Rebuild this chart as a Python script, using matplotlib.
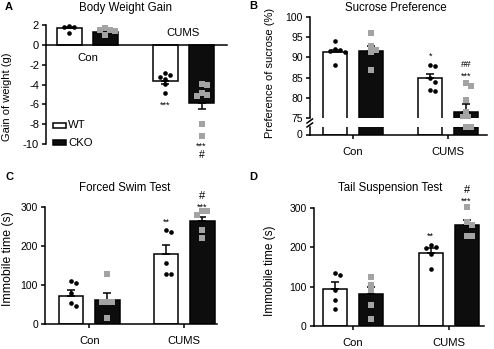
import numpy as np
import matplotlib
matplotlib.use("Agg")
import matplotlib.pyplot as plt
from matplotlib.patches import Rectangle
from matplotlib.lines import Line2D

plt.rcParams['font.family'] = ['Liberation Sans', 'DejaVu Sans']

# ---------------- data ----------------
groups = ["Con", "CUMS"]
series = ["WT", "CKO"]

# A: Body weight gain (g)
bw_wt_mean = [1.67, -3.6]
bw_wt_sem = [0.12, 0.33]
bw_cko_mean = [1.3, -5.85]
bw_cko_sem = [0.15, 0.67]
bw_wt_con = [1.8, 1.2, 1.85, 1.8]
bw_cko_con = [1.4, 0.95, 1.7, 1.5, 1.5]
bw_wt_cums = [-3.2, -3.05, -3.9, -4.85, -2.85, -3.4]
bw_cko_cums = [-4.9, -3.9, -8.0, -9.2, -5.2, -4.1, -5.1]

# B: Sucrose preference (%)
sp_wt_mean = [91.2, 84.8]
sp_wt_sem = [0.7, 1.2]
sp_cko_mean = [91.5, 76.5]
sp_cko_sem = [1.3, 1.9]
sp_wt_con = [88.0, 92.0, 94.1, 91.5, 91.8, 91.4]
sp_cko_con = [96.1, 92.7, 91.8, 91.4, 86.9]
sp_wt_cums = [88.0, 87.9, 84.9, 84.0, 81.7, 81.9]
sp_cko_cums = [83.7, 83.0, 79.4, 76.5, 75.3, 75.2, 69.0, 69.0]

# C: Forced swim test immobile time (s)
fs_wt_mean = [72.9, 179.0]
fs_wt_sem = [14.5, 24.0]
fs_cko_mean = [61.7, 265.7]
fs_cko_sem = [17.2, 10.3]
fs_wt_con = [78.9, 110.6, 53.1, 104.6, 47.1]
fs_cko_con = [57.4, 127.7, 57.4, 14.6, 57.4]
fs_wt_cums = [235.7, 241.7, 156.0, 127.7, 127.7]
fs_cko_cums = [290.6, 280.0, 290.6, 241.7, 222.0]

# D: Tail suspension test immobile time (s)
ts_wt_mean = [93.8, 186.7]
ts_wt_sem = [17.0, 11.0]
ts_cko_mean = [80.1, 257.4]
ts_cko_sem = [18.0, 12.8]
ts_wt_con = [133.8, 129.6, 91.2, 65.6, 42.6]
ts_cko_con = [125.3, 104.0, 91.2, 52.9, 17.0]
ts_wt_cums = [206.3, 202.0, 199.5, 183.3, 144.0]
ts_cko_cums = [302.6, 266.0, 257.4, 229.3, 229.3]

# ---------------- layout helpers ----------------
W, H = 494, 349
fig = plt.figure(figsize=(W / 100, H / 100), dpi=100)


def fx(px):
    return px / W


def fy(py):
    return 1 - py / H


def make_ax(l, r, t, b):
    return fig.add_axes([fx(l), fy(b), (r - l) / W, (b - t) / H])


GRAY = '#a3a3a3'
LW = 1.1


def swarm(vals, ax, xc, diam=5.0):
    bb = ax.get_position()
    ylo, yhi = ax.get_ylim()
    xlo, xhi = ax.get_xlim()
    ypu = bb.height * H / (yhi - ylo)
    xpu = bb.width * W / (xhi - xlo)
    placed = []
    offs = [0.0] * len(vals)
    order = sorted(range(len(vals)), key=lambda i: -vals[i])
    cands = [0.0]
    for k in range(1, 12):
        cands += [k * diam * 0.5, -k * diam * 0.5]
    for i in order:
        y = vals[i] * ypu
        for c in cands:
            if all((c - px) ** 2 + (y - py) ** 2 >= (diam * 0.98) ** 2 for px, py in placed):
                placed.append((c, y))
                offs[i] = c / xpu
                break
    return [xc + o for o in offs]


def draw_panel(ax, off, width, wt_mean, wt_sem, cko_mean, cko_sem, pts, errs=True):
    xs = np.arange(len(groups))
    ax.bar(xs - off, wt_mean, width, color='white', edgecolor='black', linewidth=LW, zorder=2)
    ax.bar(xs + off, cko_mean, width, color='#0d0d0d', edgecolor='black', linewidth=LW, zorder=2)
    if errs:
        for x, m, s in zip(list(xs - off) + list(xs + off), wt_mean + cko_mean, wt_sem + cko_sem):
            lo, hi = (0, s) if m >= 0 else (s, 0)
            ax.errorbar([x], [m], yerr=[[lo], [hi]], fmt='none', ecolor='black',
                        elinewidth=LW, capsize=3, capthick=LW, zorder=4)
    for (gi, kind), vals in pts.items():
        xc = gi + (off if kind == 'cko' else -off)
        xp = swarm(vals, ax, xc)
        if kind == 'wt':
            ax.scatter(xp, vals, s=11, marker='o', color='black', zorder=5, linewidths=0, clip_on=False)
        else:
            ax.scatter(xp, vals, s=13, marker='s', color=GRAY, zorder=5, linewidths=0, clip_on=False)


def style(ax, fs=7.5):
    for sp in ['top', 'right']:
        ax.spines[sp].set_visible(False)
    for sp in ['left', 'bottom']:
        ax.spines[sp].set_linewidth(LW)
    ax.tick_params(direction='out', length=3, width=LW, labelsize=fs, pad=2)


# ---------------- Panel A ----------------
axA = make_ax(46, 227, 25, 144)
axA.set_xlim(-0.432, 1.453)
axA.set_ylim(-10, 2)
style(axA, 8)
axA.spines['bottom'].set_position(('data', 0))
axA.set_xticks([])
axA.set_yticks([2, 0, -2, -4, -6, -8, -10])
axA.set_yticklabels(['2', '0', '-2', '-4', '-6', '-8', '-10'])
draw_panel(axA, 0.1875, 0.26, bw_wt_mean, bw_wt_sem, bw_cko_mean, bw_cko_sem,
           {(0, 'wt'): bw_wt_con, (0, 'cko'): bw_cko_con,
            (1, 'wt'): bw_wt_cums, (1, 'cko'): bw_cko_cums})
axA.text(0, -1.35, groups[0], ha='center', va='center', fontsize=8.2)
axA.text(1.0, 1.2, groups[1], ha='center', va='center', fontsize=8.2)
axA.text(1 - 0.1875, -6.1, '***', ha='center', va='center', fontsize=6.5, clip_on=False)
axA.text(1 + 0.1875, -10.25, '***', ha='center', va='center', fontsize=6.5, clip_on=False)
axA.text(1 + 0.1875, -11.1, '#', ha='center', va='center', fontsize=7.5, clip_on=False)
# legend
fig.patches.append(Rectangle((fx(53), fy(127.5)), 13 / W, 5 / H, transform=fig.transFigure,
                             facecolor='white', edgecolor='black', linewidth=LW))
fig.patches.append(Rectangle((fx(53), fy(145.5)), 13 / W, 5 / H, transform=fig.transFigure,
                             facecolor='#0d0d0d', edgecolor='black', linewidth=LW))
fig.text(fx(68), fy(125), series[0], ha='left', va='center', fontsize=8.2)
fig.text(fx(68), fy(143), series[1], ha='left', va='center', fontsize=8.2)
fig.text(fx(7), fy(97), 'Gain of weight (g)', rotation=90, ha='center', va='center', fontsize=8)
fig.text(fx(125), fy(8), 'Body Weight Gain', ha='center', va='center', fontsize=8.3)
fig.text(fx(5), fy(7), 'A', ha='left', va='center', fontsize=8, fontweight='bold')

# ---------------- Panel B ----------------
axB = make_ax(309.7, 487, 16.7, 118.3)
axB.set_xlim(-0.456, 1.41)
axB.set_ylim(75, 100)
style(axB, 7.5)
axB.spines['bottom'].set_visible(False)
axB.set_xticks([])
axB.set_yticks([75, 80, 85, 90, 95, 100])
draw_panel(axB, 0.187, 0.25, sp_wt_mean, sp_wt_sem, sp_cko_mean, sp_cko_sem,
           {(0, 'wt'): sp_wt_con, (0, 'cko'): sp_cko_con,
            (1, 'wt'): sp_wt_cums, (1, 'cko'): [v for v in sp_cko_cums if v >= 75]})
for art in axB.collections:
    art.set_clip_on(True)
axB.text(1 - 0.187, 90.2, '*', ha='center', va='center', fontsize=6.5, clip_on=False)
axB.text(1 + 0.187, 88.3, '##', ha='center', va='center', fontsize=6.8, clip_on=False)
axB.text(1 + 0.187, 85.4, '***', ha='center', va='center', fontsize=6.5, clip_on=False)

axB2 = make_ax(309.7, 487, 126.7, 134.5)
axB2.set_xlim(-0.456, 1.41)
axB2.set_ylim(0, 75)
style(axB2, 7.5)
axB2.set_yticks([0])
axB2.set_xticks([0, 1])
axB2.set_xticklabels(groups, fontsize=8.1)
axB2.tick_params(axis='x', pad=6)
draw_panel(axB2, 0.187, 0.25, sp_wt_mean, sp_wt_sem, sp_cko_mean, sp_cko_sem,
           {(1, 'cko'): [v for v in sp_cko_cums if v < 75]}, errs=False)
# axis break marks
for yb in (121.0, 125.0):
    fig.add_artist(Line2D([fx(307), fx(312.5)], [fy(yb + 2), fy(yb - 2)], color='black',
                          linewidth=LW, transform=fig.transFigure))
fig.text(fx(270), fy(73), 'Preference of sucrose (%)', rotation=90, ha='center', va='center', fontsize=8)
fig.text(fx(396), fy(8), 'Sucrose Preference', ha='center', va='center', fontsize=8.3)
fig.text(fx(249), fy(6), 'B', ha='left', va='center', fontsize=8, fontweight='bold')

# ---------------- Panel C ----------------
axC = make_ax(45, 217, 207.3, 324)
axC.set_xlim(-0.466, 1.345)
axC.set_ylim(0, 300)
style(axC, 7.5)
axC.set_yticks([0, 100, 200, 300])
axC.set_xticks([0, 1])
axC.set_xticklabels(groups, fontsize=8.1)
axC.tick_params(axis='x', pad=6)
draw_panel(axC, 0.19, 0.258, fs_wt_mean, fs_wt_sem, fs_cko_mean, fs_cko_sem,
           {(0, 'wt'): fs_wt_con, (0, 'cko'): fs_cko_con,
            (1, 'wt'): fs_wt_cums, (1, 'cko'): fs_cko_cums})
axC.text(1 - 0.19, 262, '**', ha='center', va='center', fontsize=6.5, clip_on=False)
axC.text(1 + 0.19, 300, '***', ha='center', va='center', fontsize=6.5, clip_on=False)
axC.text(1 + 0.19, 330, '#', ha='center', va='center', fontsize=8, clip_on=False)
fig.text(fx(8), fy(259), 'Immobile time (s)', rotation=90, ha='center', va='center', fontsize=8.8)
fig.text(fx(125), fy(188), 'Forced Swim Test', ha='center', va='center', fontsize=8.3)
fig.text(fx(5), fy(177), 'C', ha='left', va='center', fontsize=8, fontweight='bold')

# ---------------- Panel D ----------------
axD = make_ax(313.7, 484, 208.3, 325.7)
axD.set_xlim(-0.41, 1.37)
axD.set_ylim(0, 300)
style(axD, 7.5)
axD.set_yticks([0, 100, 200, 300])
axD.set_xticks([0, 1])
axD.set_xticklabels(groups, fontsize=8.1)
axD.tick_params(axis='x', pad=6)
draw_panel(axD, 0.188, 0.25, ts_wt_mean, ts_wt_sem, ts_cko_mean, ts_cko_sem,
           {(0, 'wt'): ts_wt_con, (0, 'cko'): ts_cko_con,
            (1, 'wt'): ts_wt_cums, (1, 'cko'): ts_cko_cums})
axD.text(1 - 0.188, 229, '**', ha='center', va='center', fontsize=6.5, clip_on=False)
axD.text(1 + 0.188, 318, '***', ha='center', va='center', fontsize=6.5, clip_on=False)
axD.text(1 + 0.188, 347, '#', ha='center', va='center', fontsize=8, clip_on=False)
fig.text(fx(270), fy(271), 'Immobile time (s)', rotation=90, ha='center', va='center', fontsize=8.5)
fig.text(fx(390), fy(188), 'Tail Suspension Test', ha='center', va='center', fontsize=8.3)
fig.text(fx(249), fy(177), 'D', ha='left', va='center', fontsize=8, fontweight='bold')

fig.savefig('out.png', dpi=100)
